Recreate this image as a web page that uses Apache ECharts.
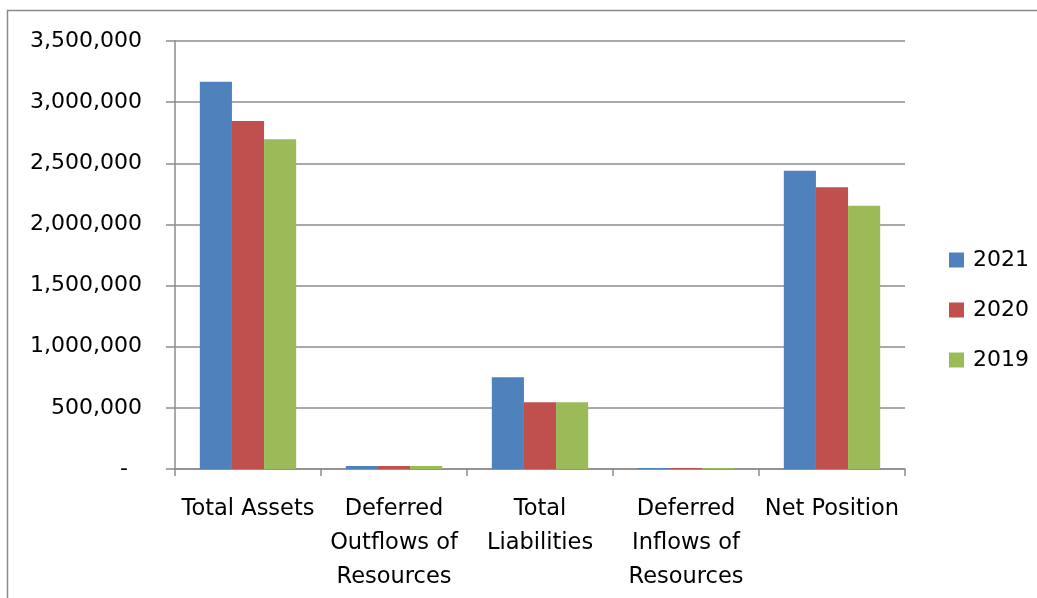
<!DOCTYPE html>
<html>
<head>
<meta charset="utf-8">
<script src="https://cdn.jsdelivr.net/npm/echarts@6/dist/echarts.min.js"></script>
<style>
  html, body { margin: 0; padding: 0; background: #fff; }
  #chart { width: 1037px; height: 598px; }
</style>
</head>
<body>
<div id="chart"></div>
<script>
// Statement of net position components, three fiscal years
const categories = [
  'Total Assets',
  'Deferred\nOutflows of\nResources',
  'Total\nLiabilities',
  'Deferred\nInflows of\nResources',
  'Net Position'
];
const seriesNames = ['2021', '2020', '2019'];
const values2021 = [3167000, 25000, 750000, 8000, 2439000];
const values2020 = [2846000, 25000, 545000, 8000, 2304000];
const values2019 = [2696000, 25000, 545000, 8000, 2153000];
const colors = ['#4F81BD', '#C0504D', '#9BBB59'];

const FONT = 'DejaVu Sans';
const GRID_COLOR = '#8c8c8c';

const chart = echarts.init(document.getElementById('chart'), null, { renderer: 'canvas' });

// accounting-style tick labels: zero shown as a dash
function fmt(v) {
  if (v === 0) return '-  ';
  return v.toLocaleString('en-US');
}

const allValues = [values2021, values2020, values2019];

chart.setOption({
  animation: false,
  backgroundColor: '#ffffff',
  textStyle: { fontFamily: FONT },
  graphic: [{
    type: 'rect',
    shape: { x: 7.5, y: 10.5, width: 1200, height: 800 },
    style: { fill: 'none', stroke: '#8a8a8a', lineWidth: 1.5 },
    silent: true
  }],
  grid: { left: 175, right: 132, top: 41, bottom: 129 },
  legend: {
    orient: 'vertical',
    left: 944, top: 244,
    itemWidth: 15, itemHeight: 15,
    itemGap: 28,
    icon: 'rect',
    textStyle: { fontFamily: FONT, fontSize: 22, color: '#000', padding: [0, 0, 0, 4] },
    data: seriesNames
  },
  xAxis: {
    type: 'category',
    data: categories,
    axisLine: { lineStyle: { color: GRID_COLOR, width: 1.5 } },
    axisTick: { show: true, length: 7, interval: 0, lineStyle: { color: GRID_COLOR, width: 1.5 } },
    axisLabel: {
      interval: 0, margin: 23,
      fontFamily: FONT, fontSize: 22.5, color: '#000', lineHeight: 34
    }
  },
  yAxis: {
    type: 'value',
    min: 0, max: 3500000, interval: 500000,
    axisLine: { show: true, lineStyle: { color: GRID_COLOR, width: 1.5 } },
    axisTick: { show: true, length: 9, lineStyle: { color: GRID_COLOR, width: 1.5 } },
    splitLine: { show: true, lineStyle: { color: GRID_COLOR, width: 1.5 } },
    axisLabel: {
      margin: 33,
      fontFamily: FONT, fontSize: 22, color: '#000',
      formatter: fmt
    }
  },
  series: seriesNames.map((name, i) => ({
    name: name,
    type: 'bar',
    data: allValues[i],
    barGap: '0%',
    barCategoryGap: '34%',
    barMinHeight: 1,
    itemStyle: { color: colors[i] }
  }))
});
</script>
</body>
</html>
